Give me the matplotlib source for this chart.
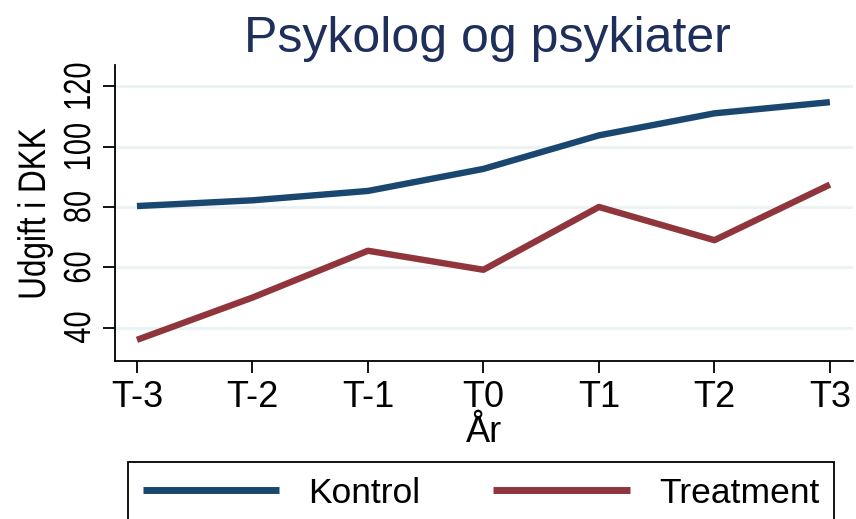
import matplotlib.pyplot as plt
from matplotlib.textpath import TextPath
from matplotlib.patches import PathPatch
from matplotlib.font_manager import FontProperties
from matplotlib.transforms import Affine2D

# --- data ---
years = ["T-3", "T-2", "T-1", "T0", "T1", "T2", "T3"]
kontrol = [80.3, 82.2, 85.3, 92.6, 103.7, 111.0, 114.7]
treatment = [36.0, 50.0, 65.5, 59.2, 80.0, 69.0, 87.4]
yticks = [40, 60, 80, 100, 120]

plt.rcParams['font.family'] = ['Liberation Sans', 'DejaVu Sans']
fp = FontProperties(family='Liberation Sans')

fig = plt.figure(figsize=(8.56, 5.19), dpi=100)
ax = fig.add_axes([115/856, 1 - 361/519, (853 - 115)/856, (361 - 65)/519])

x = list(range(len(years)))
ax.plot(x, kontrol, color='#1a476f', lw=4.6, label='Kontrol', solid_capstyle='butt')
ax.plot(x, treatment, color='#90353b', lw=4.6, label='Treatment', solid_capstyle='butt')

ax.set_xlim(-0.19, 6.2)
ax.set_ylim(29, 127)
ax.set_xticks(x)
ax.set_xticklabels(years)
ax.set_yticks(yticks)
ax.set_yticklabels([])

for v in yticks:
    ax.axhline(v, color='#eaf2f3', lw=2, zorder=0)

for s in ['top', 'right']:
    ax.spines[s].set_visible(False)
for s in ['left', 'bottom']:
    ax.spines[s].set_linewidth(1.3)
ax.tick_params(axis='both', direction='out', length=8.6, width=1.3)
ax.tick_params(axis='x', pad=5, labelsize=26)


def tall_vertical_text(s, right_px, center_py, em_px, stretch):
    # rotated text, widened across (the reference's vertical texts look stretched)
    tp = TextPath((0, 0), s, size=em_px, prop=fp)
    ext = tp.get_extents()
    tr = (Affine2D().translate(-(ext.x0 + ext.x1) / 2, 0).rotate_deg(90)
          .scale(stretch, 1).translate(right_px, center_py))
    fig.add_artist(PathPatch(tp, transform=tr, fc='black', lw=0))


# y tick labels, laid out from the axis scale
for v in yticks:
    py = ax.transData.transform((0, v))[1]
    tall_vertical_text(str(v), 90, py, 29, 1.3)

# y axis title, centred on the axes
ax_box = ax.get_position()
tall_vertical_text('Udgift i DKK', 45, (ax_box.y0 + ax_box.y1) / 2 * 519, 31.5, 1.22)

ax.set_xlabel('År', fontsize=26, labelpad=0)
fig.text(487/856, 1 - 52/519, 'Psykolog og psykiater', fontsize=36, color='#1f2f5c',
         ha='center', va='baseline')

leg = fig.legend(loc='upper left', bbox_to_anchor=(128/856, 1 - 462/519), ncol=2,
                 fontsize=25.5, frameon=True, fancybox=False, edgecolor='black',
                 handlelength=3.85, handletextpad=0.82, columnspacing=2.06,
                 borderpad=0.42, borderaxespad=0, framealpha=1)
leg.get_frame().set_linewidth(1.3)
for h in leg.get_lines():
    h.set_linewidth(5)

fig.savefig('out.png', dpi=100)
